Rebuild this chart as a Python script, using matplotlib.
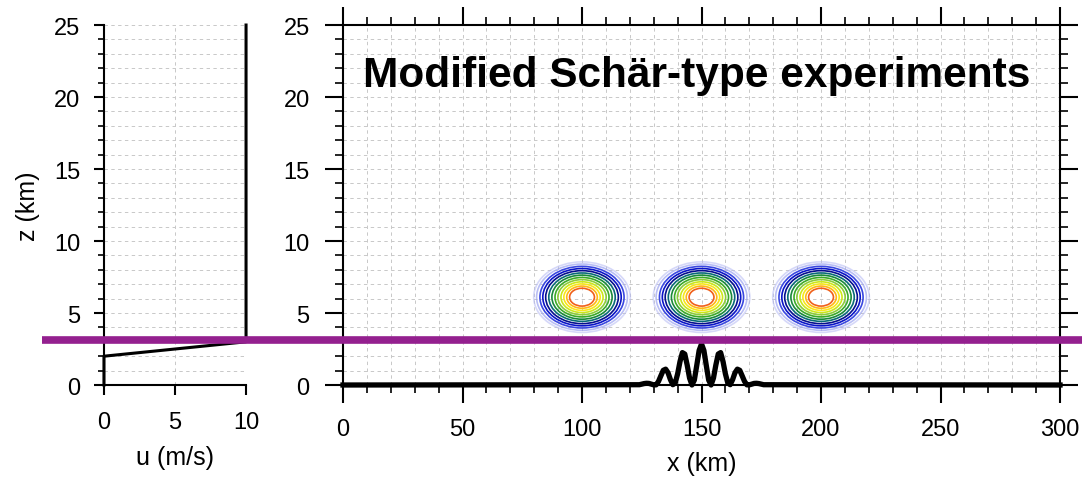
import matplotlib.pyplot as plt
from matplotlib.patches import Ellipse
from matplotlib.ticker import MultipleLocator
from matplotlib.transforms import blended_transform_factory

plt.rcParams['font.family'] = ['Liberation Sans', 'DejaVu Sans']

# upstream wind profile
u_wind = [0, 0, 10, 10]
z_wind = [0, 2, 3, 25]

# terrain (km)
terrain_x = [0] + list(range(124, 177)) + [300]
terrain_z = [0,
             0.02, 0.06, 0.10, 0.12, 0.11, 0.06, 0.01, 0.01, 0.25, 0.64,
             1.02, 1.10, 0.85, 0.37, 0.02, 0.14, 0.77, 1.63, 2.25, 2.15,
             1.39, 0.48, 0.00, 0.34, 1.35, 2.40, 2.85,
             2.40, 1.35, 0.34, 0.00, 0.48, 1.39, 2.15, 2.25, 1.63, 0.77,
             0.14, 0.02, 0.37, 0.85, 1.10, 1.02, 0.64, 0.25, 0.01, 0.01,
             0.06, 0.11, 0.12, 0.10, 0.06, 0.02,
             0]

# tracer bubbles: centres and contour rings (half widths in km)
bubble_x = [100, 150, 200]
bubble_z = 6.1
ring_rx = [20.2, 19.0, 17.6, 16.4, 15.2, 13.9, 12.6, 11.3, 10.1, 8.8, 7.6, 6.4, 5.2]
ring_rz = [2.45, 2.30, 2.14, 1.99, 1.84, 1.68, 1.53, 1.37, 1.22, 1.07, 0.92, 0.77, 0.62]
ring_colors = ['#b4b8f4', '#9aa2f0', '#3a48e0', '#0a14c8', '#06108e', '#0a6a78',
               '#1a8a3a', '#3caa28', '#8ccc3a', '#cce81a', '#f8e81a', '#ffb814', '#f0601a']
ring_alpha = [0.55, 0.7, 1, 1, 1, 1, 1, 1, 1, 1, 1, 1, 1]

marker_z = 3.1
title = 'Modified Sch\u00e4r-type experiments'

fig = plt.figure(figsize=(10.82, 4.81), dpi=100)
ax1 = fig.add_axes([0.0961, 0.1975, 0.1313, 0.7484])
ax2 = fig.add_axes([0.3170, 0.1975, 0.6627, 0.7484])

grid_kw = dict(color='#c8c8c8', linestyle=(0, (3.5, 3.5)), linewidth=0.7)

# left panel: wind profile
ax1.plot(u_wind, z_wind, color='black', linewidth=2.2, clip_on=False, zorder=3)
ax1.set_xlim(0, 10)
ax1.set_ylim(0, 25)
ax1.xaxis.set_major_locator(MultipleLocator(5))
ax1.yaxis.set_major_locator(MultipleLocator(5))
ax1.yaxis.set_minor_locator(MultipleLocator(1))
ax1.grid(axis='x', which='major', **grid_kw)
ax1.grid(axis='y', which='both', **grid_kw)
ax1.set_axisbelow(True)
for s in ['top', 'right']:
    ax1.spines[s].set_visible(False)
for s in ['left', 'bottom']:
    ax1.spines[s].set_linewidth(1.5)
ax1.tick_params(which='major', direction='out', length=7, width=1.5, labelsize=17)
ax1.tick_params(axis='x', which='major', pad=12)
ax1.tick_params(axis='y', which='major', pad=10)
ax1.tick_params(which='minor', direction='out', length=4, width=1.2)
ax1.set_xlabel('u (m/s)', fontsize=18, labelpad=8)
ax1.set_ylabel('z (km)', fontsize=18, labelpad=10)

# right panel: terrain and bubbles
for xc in bubble_x:
    for rx, rz, c, a in zip(ring_rx, ring_rz, ring_colors, ring_alpha):
        ax2.add_patch(Ellipse((xc, bubble_z), 2 * rx, 2 * rz, fill=False,
                              edgecolor=c, alpha=a, linewidth=1.2, zorder=2))
ax2.plot(terrain_x, terrain_z, color='black', linewidth=3.8, zorder=3, clip_on=False)
ax2.set_xlim(0, 300)
ax2.set_ylim(0, 25)
ax2.xaxis.set_major_locator(MultipleLocator(50))
ax2.xaxis.set_minor_locator(MultipleLocator(10))
ax2.yaxis.set_major_locator(MultipleLocator(5))
ax2.yaxis.set_minor_locator(MultipleLocator(1))
ax2.grid(which='both', **grid_kw)
ax2.set_axisbelow(True)
for s in ax2.spines.values():
    s.set_linewidth(1.5)
ax2.tick_params(which='both', direction='out', top=True, right=True, labelsize=17)
ax2.tick_params(which='major', length=13, width=1.5, pad=11)
ax2.tick_params(which='minor', length=6, width=1.2)
ax2.set_xlabel('x (km)', fontsize=18, labelpad=8)
ax2.text(0.028, 0.862, title, transform=ax2.transAxes, fontsize=30.5,
         fontweight='bold', va='center', ha='left')

# purple marker line across both panels
trans = blended_transform_factory(fig.transFigure, ax2.transData)
ax2.plot([0.039, 1.0], [marker_z, marker_z], color='#94208f', linewidth=5.5,
         transform=trans, clip_on=False, zorder=10, solid_capstyle='butt')

fig.savefig('out.png', dpi=100)
